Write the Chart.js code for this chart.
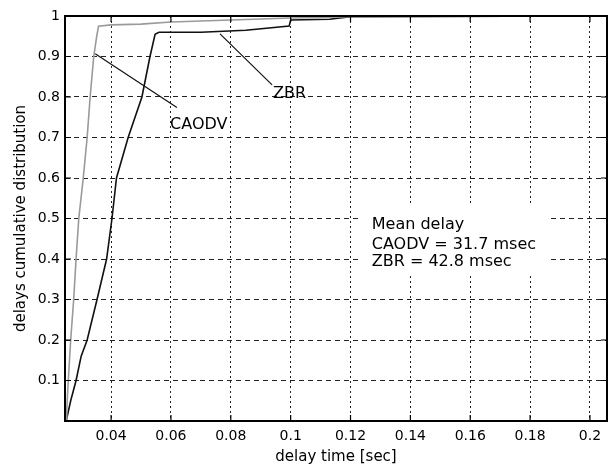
<!DOCTYPE html>
<html>
<head>
<meta charset="utf-8">
<script src="https://cdn.jsdelivr.net/npm/chart.js@4.4.1/dist/chart.umd.min.js"></script>
<style>
  html, body { margin: 0; padding: 0; background: #fff; }
</style>
</head>
<body>
<canvas id="cdfChart" width="613" height="469"></canvas>
<script>
// delay time [sec] and cumulative fraction
const caodvX = [0.025, 0.0252, 0.0257, 0.0265, 0.0275, 0.0283, 0.0292, 0.0307, 0.032, 0.033, 0.0342, 0.0352, 0.0358, 0.040, 0.050, 0.060, 0.080, 0.100, 0.120, 0.200];
const caodvY = [0.00, 0.03, 0.10, 0.20, 0.30, 0.40, 0.50, 0.60, 0.70, 0.80, 0.90, 0.95, 0.975, 0.978, 0.980, 0.985, 0.990, 0.995, 0.998, 1.000];

const zbrX = [0.025, 0.0265, 0.0283, 0.030, 0.032, 0.0353, 0.0385, 0.0403, 0.0418, 0.0457, 0.0503, 0.053, 0.0547, 0.056, 0.070, 0.085, 0.0995, 0.100, 0.113, 0.120, 0.200];
const zbrY = [0.00, 0.05, 0.10, 0.16, 0.20, 0.30, 0.40, 0.50, 0.60, 0.70, 0.80, 0.90, 0.955, 0.96, 0.96, 0.965, 0.975, 0.99, 0.992, 0.998, 1.000];

const xTicks = [0.04, 0.06, 0.08, 0.1, 0.12, 0.14, 0.16, 0.18, 0.2];
const yTicks = [0.1, 0.2, 0.3, 0.4, 0.5, 0.6, 0.7, 0.8, 0.9, 1];

const meanLines = ['Mean delay', 'CAODV = 31.7 msec', 'ZBR = 42.8 msec'];

// pair up x/y arrays for the scatter datasets
function toPoints(xs, ys) {
    return xs.map((x, i) => ({ x: x, y: ys[i] }));
}

function fmt(v) {
    return String(Number(v.toFixed(3)));
}

// frame, inner ticks, leader lines, labels and the mean delay box
const notesPlugin = {
    id: 'notes',
    beforeDatasetsDraw(chart) {
        const { ctx, scales: { x, y } } = chart;
        // white box behind the mean delay text
        ctx.save();
        ctx.fillStyle = '#fff';
        const bx = x.getPixelForValue(0.1238), by = y.getPixelForValue(0.536);
        ctx.fillRect(bx, by, x.getPixelForValue(0.1866) - bx, y.getPixelForValue(0.364) - by);
        ctx.restore();
    },
    afterDatasetsDraw(chart) {
        const { ctx, chartArea: a, scales: { x, y } } = chart;
        ctx.save();
        ctx.strokeStyle = '#000';
        ctx.lineWidth = 2;
        ctx.strokeRect(a.left, a.top, a.right - a.left, a.bottom - a.top);

        // matlab style ticks pointing inwards
        ctx.lineWidth = 1.2;
        ctx.beginPath();
        x.ticks.forEach(t => {
            const px = x.getPixelForValue(t.value);
            ctx.moveTo(px, a.bottom); ctx.lineTo(px, a.bottom - 6);
            ctx.moveTo(px, a.top); ctx.lineTo(px, a.top + 6);
        });
        y.ticks.forEach(t => {
            const py = y.getPixelForValue(t.value);
            ctx.moveTo(a.left, py); ctx.lineTo(a.left + 6, py);
            ctx.moveTo(a.right, py); ctx.lineTo(a.right - 6, py);
        });
        ctx.stroke();

        // leader lines
        ctx.strokeStyle = '#111';
        ctx.beginPath();
        ctx.moveTo(x.getPixelForValue(0.0347), y.getPixelForValue(0.907));
        ctx.lineTo(x.getPixelForValue(0.062), y.getPixelForValue(0.774));
        ctx.moveTo(x.getPixelForValue(0.0764), y.getPixelForValue(0.956));
        ctx.lineTo(x.getPixelForValue(0.0938), y.getPixelForValue(0.830));
        ctx.stroke();

        ctx.fillStyle = '#000';
        ctx.font = '16px "DejaVu Sans"';
        ctx.textBaseline = 'middle';
        ctx.textAlign = 'left';
        ctx.fillText('CAODV', x.getPixelForValue(0.0597), y.getPixelForValue(0.732));
        ctx.fillText('ZBR', x.getPixelForValue(0.0941), y.getPixelForValue(0.808));

        const tx = x.getPixelForValue(0.1271);
        const rows = [0.484, 0.434, 0.392];
        meanLines.forEach((t, i) => ctx.fillText(t, tx, y.getPixelForValue(rows[i])));
        ctx.restore();
    }
};

const ctx = document.getElementById('cdfChart').getContext('2d');
const cdfChart = new Chart(ctx, {
    type: 'scatter',
    data: {
        datasets: [
            {
                label: 'CAODV',
                data: toPoints(caodvX, caodvY),
                showLine: true,
                borderColor: '#9a9a9a',
                borderWidth: 1.6,
                pointRadius: 0,
                tension: 0
            },
            {
                label: 'ZBR',
                data: toPoints(zbrX, zbrY),
                showLine: true,
                borderColor: '#111',
                borderWidth: 1.6,
                pointRadius: 0,
                tension: 0
            }
        ]
    },
    options: {
        responsive: false,
        animation: false,
        devicePixelRatio: 1,
        layout: { padding: { top: 16, right: 6, left: 0, bottom: 0 } },
        plugins: {
            legend: { display: false },
            tooltip: { enabled: false }
        },
        scales: {
            x: {
                type: 'linear',
                min: 0.0246,
                max: 0.2057,
                afterBuildTicks: s => { s.ticks = xTicks.map(v => ({ value: v })); },
                afterFit: s => { s.height = 48; },
                grid: { color: '#222', lineWidth: 1, drawTicks: false },
                border: { display: false, dash: [2, 3] },
                ticks: {
                    padding: 7,
                    color: '#000',
                    font: { family: 'DejaVu Sans', size: 14 },
                    callback: v => fmt(v)
                },
                title: {
                    display: true,
                    text: 'delay time [sec]',
                    color: '#000',
                    font: { family: 'DejaVu Sans', size: 15 },
                    padding: { top: 0, bottom: 3 }
                }
            },
            y: {
                type: 'linear',
                min: 0,
                max: 1,
                afterBuildTicks: s => { s.ticks = yTicks.map(v => ({ value: v })); },
                afterFit: s => { s.width = 65; },
                grid: { color: '#222', lineWidth: 1, drawTicks: false },
                border: { display: false, dash: [5, 4] },
                ticks: {
                    padding: 5,
                    color: '#000',
                    font: { family: 'DejaVu Sans', size: 14 },
                    callback: v => fmt(v)
                },
                title: {
                    display: true,
                    text: 'delays cumulative distribution',
                    color: '#000',
                    font: { family: 'DejaVu Sans', size: 15 },
                    padding: { top: 12, bottom: 0 }
                }
            }
        }
    },
    plugins: [notesPlugin]
});
</script>
</body>
</html>
